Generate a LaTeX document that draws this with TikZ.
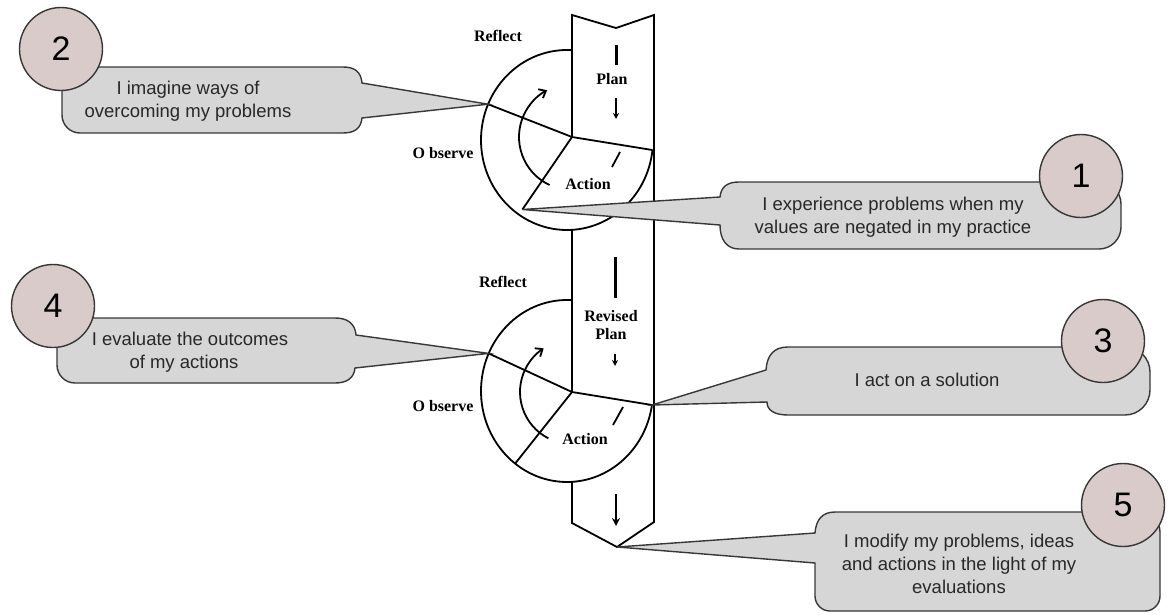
\documentclass[tikz,border=0pt]{standalone}
\usepackage{fontspec}
\setmainfont{Liberation Serif}
\newfontfamily\calloutfont{Liberation Sans}
\usetikzlibrary{arrows.meta}
\definecolor{calloutgray}{RGB}{214,214,214}
\definecolor{badgefill}{RGB}{217,203,202}
\definecolor{edgegray}{RGB}{55,55,55}
\definecolor{inkgray}{RGB}{40,40,40}
\begin{document}
\begin{tikzpicture}[x=1pt,y=-1pt,
  cycleline/.style={line width=1.8pt, draw=black},
  stagelabel/.style={font=\bfseries\fontsize{16}{18}\selectfont, inner sep=0pt, align=center},
  callout/.style={fill=calloutgray, draw=edgegray, line width=1.4pt, line join=miter},
  badge/.style={circle, fill=badgefill, draw=edgegray, line width=1.4pt, minimum size=83pt,
    inner sep=0pt, font=\calloutfont\fontsize{34}{34}\selectfont, text=black},
  note/.style={font=\calloutfont\fontsize{18.5}{23}\selectfont, text=inkgray, align=center, inner sep=0pt},
]
\useasboundingbox (0,0) rectangle (1173,614);

% ---- key points of the spiral ----
\coordinate (topL) at (572,15);
\coordinate (notch) at (616,28);
\coordinate (topR) at (654,15);
\coordinate (botL) at (572,523);
\coordinate (botR) at (654,522);
\coordinate (tipB) at (617,547);
\coordinate (hubA) at (572,137);
\coordinate (hubB) at (572,392);
\coordinate (rA) at (652.46,150.03);
\coordinate (lA) at (488,104.2);
\coordinate (dA) at (522.4,209.5);
\coordinate (rB) at (651.98,405);
\coordinate (lB) at (488.6,353.4);
\coordinate (dB) at (515.1,463.6);

% ---- column (arrow shaped band) ----
\draw[cycleline, line join=miter] (hubA) -- (topL) -- (notch) -- (topR) -- (botR) -- (tipB) -- (botL) -- (572,481.8);
\draw[cycleline] (572,229.8) -- (hubB);

% ---- first cycle ----
\draw[cycleline] (572,50.15) arc[start angle=-86.67, end angle=-353.6, x radius=86, y radius=90];
\draw[cycleline] (lA) -- (hubA) -- (rA);
\draw[cycleline] (hubA) -- (dA);
\draw[cycleline, -{Straight Barb[length=6pt, width=10pt]}] (hubA) ++(115:53) arc[start angle=115, end angle=242, radius=53];
\draw[cycleline] (612,167) -- (620,152);

% ---- second cycle ----
\draw[cycleline] (572,300.15) arc[start angle=-86.67, end angle=-351.15, x radius=86, y radius=91];
\draw[cycleline] (lB) -- (hubB) -- (rB);
\draw[cycleline] (hubB) -- (dB);
\draw[cycleline, -{Straight Barb[length=6pt, width=10pt]}] (hubB) ++(117:52) arc[start angle=117, end angle=237, radius=52];
\draw[cycleline] (613,425) -- (623,407);

% ---- marks inside the column ----
\draw[line width=3pt] (616,45) -- (616,65);
\draw[line width=1.6pt, -{Stealth[length=6pt, width=6pt]}] (616,98) -- (616,119);
\draw[line width=3pt] (615,257) -- (615,298);
\draw[line width=1.6pt, -{Stealth[length=6pt, width=6pt]}] (615,354) -- (615,366);
\draw[line width=2.4pt, -{Stealth[length=8pt, width=8pt]}] (616,494) -- (616,526);

% ---- stage labels ----
\node[stagelabel] (reflectA) at (498,36) {Reflect};
\node[stagelabel] (planA) at (612,79) {Plan};
\node[stagelabel] (actionA) at (588,184) {Action};
\node[stagelabel] (observeA) at (443,153) {O bserve};
\node[stagelabel] (reflectB) at (503,282) {Reflect};
\node[stagelabel] (planB) at (611,325) {Revised\\Plan};
\node[stagelabel] (actionB) at (585,439) {Action};
\node[stagelabel] (observeB) at (443,406) {O bserve};

% ---- callouts ----
\draw[callout] (dA) -- (720,197) .. controls (721,187) and (727,182) .. (739,182)
  -- (1099,182) arc[start angle=-90, end angle=0, radius=22] -- (1121,227)
  arc[start angle=0, end angle=90, radius=22] -- (739,249)
  .. controls (727,249) and (720,240) .. (720,225) -- cycle;
\draw[callout] (lA) -- (362,118) .. controls (361,128) and (355,133) .. (343,133)
  -- (80,133) arc[start angle=90, end angle=180, radius=18] -- (62,85)
  arc[start angle=180, end angle=270, radius=18] -- (343,67)
  .. controls (355,67) and (361,72) .. (362,83) -- cycle;
\draw[callout] (rB) -- (766,370) .. controls (767,355) and (774,347) .. (788,347)
  -- (1125,347) arc[start angle=-90, end angle=0, radius=25] -- (1150,390)
  arc[start angle=0, end angle=90, radius=25] -- (788,415)
  .. controls (774,415) and (767,410) .. (767,402) -- cycle;
\draw[callout] (lB) -- (355,368) .. controls (354,378) and (347,383) .. (335,383)
  -- (75,383) arc[start angle=90, end angle=180, radius=18] -- (57,336)
  arc[start angle=180, end angle=270, radius=18] -- (335,318)
  .. controls (347,318) and (355,323) .. (356,335) -- cycle;
\draw[callout] (tipB) -- (815,533) .. controls (816,520) and (822,512) .. (835,512)
  -- (1140,512) arc[start angle=-90, end angle=0, radius=20] -- (1160,596)
  arc[start angle=0, end angle=90, radius=15] -- (830,611)
  arc[start angle=90, end angle=180, radius=15] -- (815,563) -- cycle;

% ---- callout texts ----
\node[note] (note1) at (893,216.8) {I experience problems when my\\values are negated in my practice};
\node[note] (note2) at (188,100.8) {I imagine ways of\\overcoming my problems};
\node[note] (note3) at (927,380) {I act on a solution};
\node[note] (note4) at (190,351.8) {I evaluate the outcomes\\\hspace*{-12pt}of my actions};
\node[note] (note5) at (959,563.5) {I modify my problems, ideas\\and actions in the light of my\\evaluations};

% ---- numbered badges ----
\node[badge] (b1) at (1081,176) {1};
\node[badge] (b2) at (61,49) {2};
\node[badge] (b3) at (1103,341) {3};
\node[badge] (b4) at (53,306) {4};
\node[badge] (b5) at (1123,505) {5};
\end{tikzpicture}
\end{document}
